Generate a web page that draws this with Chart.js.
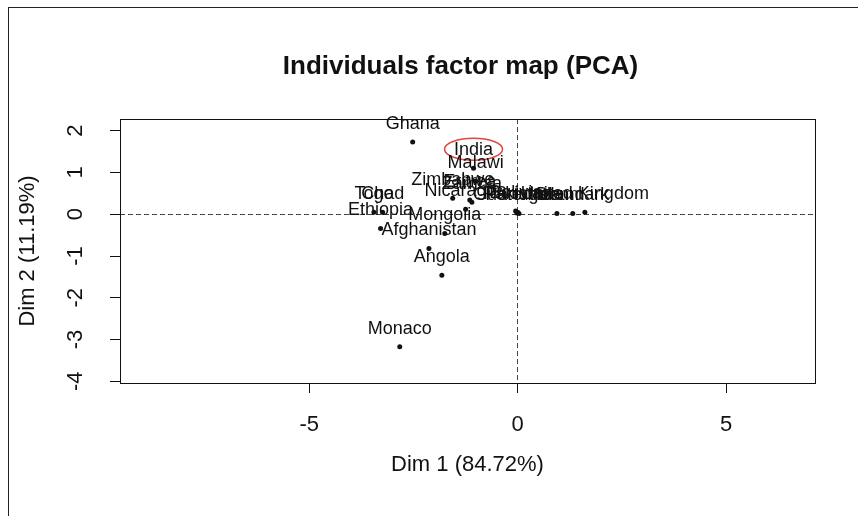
<!DOCTYPE html>
<html>
<head>
<meta charset="utf-8">
<script src="https://cdn.jsdelivr.net/npm/chart.js@4.4.1/dist/chart.umd.min.js"></script>
<style>
  html, body { margin: 0; padding: 0; background: #fff; }
  #wrap { position: relative; width: 858px; height: 516px; overflow: hidden; }
  #frame { position: absolute; left: 8px; top: 7px; right: -2px; bottom: -2px;
    border-left: 1px solid #222; border-top: 1px solid #222; pointer-events: none; }
</style>
</head>
<body>
<div id="wrap">
  <canvas id="pca" width="858" height="516"></canvas>
  <div id="frame"></div>
</div>
<script>
// individuals (countries) and their coordinates on the first two dimensions
const countries = ["Ghana", "India", "Malawi", "Zimbabwe", "Eritrea", "Zambia", "Nicaragua",
  "Togo", "Chad", "Ethiopia", "Mongolia", "Afghanistan", "Angola", "Monaco",
  "Bolivia", "Guatemala", "Pakistan", "Portugal", "Ireland", "Denmark", "United Kingdom"]
const dim1 = [-2.52, -1.06, -1.01, -1.56, -1.15, -1.10, -1.25,
  -3.45, -3.24, -3.29, -1.75, -2.13, -1.82, -2.83,
  -0.05, -0.02, 0.00, 0.03, 0.94, 1.32, 1.61]
const dim2 = [1.73, 1.10, 0.79, 0.38, 0.34, 0.29, 0.12,
  0.05, 0.05, -0.34, -0.46, -0.82, -1.46, -3.17,
  0.08, 0.03, 0.05, 0.02, 0.02, 0.02, 0.05]

const highlighted = "India"
const xRange = [-9.54, 7.13]
const yRange = [-4.04, 2.28]

const titleText = "Individuals factor map (PCA)"
const xTitle = "Dim 1 (84.72%)"
const yTitle = "Dim 2 (11.19%)"

const ink = "#111"
const fontFamily = "'Liberation Sans', Arial, sans-serif"

const points = countries.map((name, i) => ({ x: dim1[i], y: dim2[i], label: name }))

// box around the plot region + main title
const framePlugin = {
  id: "framePlugin",
  afterDraw(chart) {
    const { ctx, chartArea } = chart
    ctx.save()
    ctx.strokeStyle = ink
    ctx.lineWidth = 1
    ctx.strokeRect(Math.round(chartArea.left) + 0.5, Math.round(chartArea.top) + 0.5,
      Math.round(chartArea.right - chartArea.left), Math.round(chartArea.bottom - chartArea.top))

    ctx.fillStyle = ink
    ctx.font = "bold 26px " + fontFamily
    ctx.textAlign = "center"
    ctx.textBaseline = "middle"
    ctx.fillText(titleText, (chartArea.left + chartArea.right) / 2 - 7, 67)
    ctx.restore()
  }
}

// text label above every point (like text(..., pos = 3) in R)
const labelPlugin = {
  id: "labelPlugin",
  afterDatasetsDraw(chart) {
    const { ctx } = chart
    const meta = chart.getDatasetMeta(0)
    ctx.save()
    ctx.font = "18px " + fontFamily
    ctx.fillStyle = ink
    ctx.textAlign = "center"
    ctx.textBaseline = "middle"
    meta.data.forEach((el, i) => {
      const lx = el.x
      const ly = el.y - 18
      ctx.fillText(points[i].label, lx, ly)
      if (points[i].label == highlighted) {
        ctx.strokeStyle = "#e2473f"
        ctx.lineWidth = 1.5
        ctx.beginPath()
        ctx.ellipse(lx, ly - 1, 29, 11, 0, 0, Math.PI * 2)
        ctx.stroke()
      }
    })
    ctx.restore()
  }
}

const zeroLine = ctx => (ctx.tick && ctx.tick.value === 0) ? "#444" : "transparent"

new Chart(document.getElementById("pca").getContext("2d"), {
  type: "scatter",
  data: {
    datasets: [{
      data: points,
      pointRadius: 2.5,
      pointHoverRadius: 2.5,
      pointBackgroundColor: ink,
      pointBorderWidth: 0
    }]
  },
  options: {
    responsive: false,
    animation: false,
    events: [],
    layout: { padding: { top: 119, right: 43, bottom: 0, left: 0 } },
    plugins: { legend: { display: false }, tooltip: { enabled: false }, title: { display: false } },
    scales: {
      x: {
        type: "linear",
        min: xRange[0],
        max: xRange[1],
        afterFit: scale => { scale.height = 133 },
        ticks: { stepSize: 5, includeBounds: false, padding: 19, color: ink,
          font: { family: fontFamily, size: 22 } },
        grid: { color: zeroLine, lineWidth: 1, tickLength: 10, tickColor: ink, tickWidth: 1 },
        border: { display: false, dash: [5, 3] },
        title: { display: true, text: xTitle, color: ink, padding: { top: 0, bottom: 38 },
          font: { family: fontFamily, size: 22 } }
      },
      y: {
        type: "linear",
        min: yRange[0],
        max: yRange[1],
        afterFit: scale => { scale.width = 120 },
        ticks: { stepSize: 1, includeBounds: false, padding: 24, color: ink,
          minRotation: 90, maxRotation: 90, crossAlign: "center",
          font: { family: fontFamily, size: 22 } },
        grid: { color: zeroLine, lineWidth: 1, tickLength: 10, tickColor: ink, tickWidth: 1 },
        border: { display: false, dash: [5, 3] },
        title: { display: true, text: yTitle, color: ink, padding: { top: 15, bottom: 0 },
          font: { family: fontFamily, size: 22 } }
      }
    }
  },
  plugins: [framePlugin, labelPlugin]
})
</script>
</body>
</html>
